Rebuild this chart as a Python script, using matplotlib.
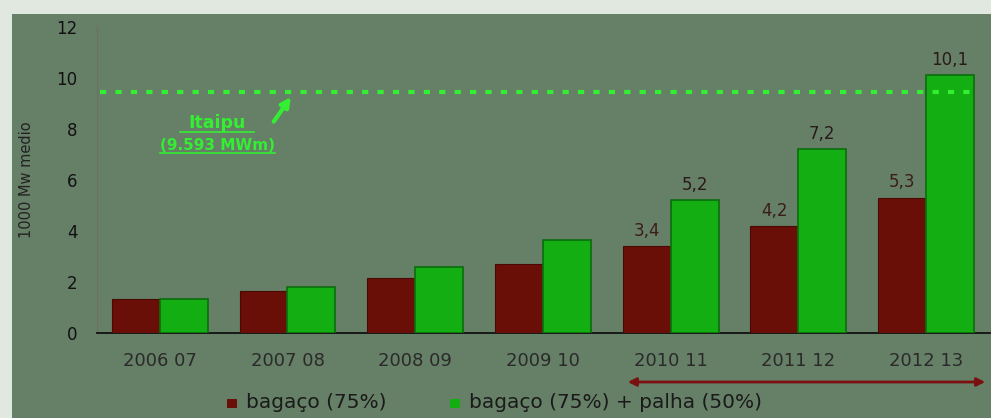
import numpy as np
from matplotlib import pyplot as plt
from matplotlib.patches import Rectangle, FancyArrowPatch

# Chart data
seasons = ['2006 07', '2007 08', '2008 09', '2009 10', '2010 11', '2011 12', '2012 13']
bagaco = [1.35, 1.65, 2.15, 2.7, 3.4, 4.2, 5.3]
bagaco_palha = [1.35, 1.8, 2.6, 3.65, 5.2, 7.2, 10.1]
labelled_from = 4          # values are printed only from 2010 11 on
itaipu_level = 9.45
itaipu_text = ['Itaipu', '(9.593 MWm)']

# Colours
outer_bg = '#e1e8df'
panel_bg = '#667f67'
red = '#6a0f07'
green = '#12ae12'
green_edge = '#0b6d0b'
line_green = '#33ee33'


def fmt(v):
    return ('%.1f' % v).replace('.', ',')


fig = plt.figure(figsize=(9.91, 4.18), dpi=100)
fig.patch.set_facecolor(outer_bg)
fig.patches.append(Rectangle((0.0121, 0), 1, 0.9665, transform=fig.transFigure,
                             facecolor=panel_bg, edgecolor='none', zorder=-5))

ax = fig.add_axes([0.098, 0.2033, 0.901, 0.7321])
ax.set_facecolor('none')

x = np.arange(len(seasons))
w = 0.375
ax.bar(x - w / 2, bagaco, w, color=red, edgecolor='#4a0a04', linewidth=0.8, zorder=3)
ax.bar(x + w / 2, bagaco_palha, w, color=green, edgecolor=green_edge, linewidth=1.2, zorder=3)

# Value labels
for i in range(labelled_from, len(seasons)):
    ax.text(x[i] - w / 2, bagaco[i] + 0.25, fmt(bagaco[i]), ha='center', va='bottom',
            fontsize=12, color='#3a1c1c', zorder=4)
    ax.text(x[i] + w / 2, bagaco_palha[i] + 0.25, fmt(bagaco_palha[i]), ha='center', va='bottom',
            fontsize=12, color='#2a1a1a', zorder=4)

# Itaipu reference line
ax.axhline(itaipu_level, xmin=0.003, xmax=0.985, color=line_green, linestyle=(0, (1.5, 2.2)),
           linewidth=3, zorder=5)
ax.text(0.45, 8.25, itaipu_text[0], ha='center', va='center', fontsize=12.5,
        color=line_green, fontweight='bold')
ax.text(0.45, 7.35, itaipu_text[1], ha='center', va='center', fontsize=11,
        color=line_green, fontweight='bold')
ax.plot([0.16, 0.74], [7.9, 7.9], color=line_green, lw=1.2)
ax.plot([0.0, 0.9], [7.05, 7.05], color=line_green, lw=1.2)
ax.annotate('', xy=(1.04, itaipu_level - 0.1), xytext=(0.88, 8.2),
            arrowprops=dict(arrowstyle='-|>', color=line_green, lw=3, mutation_scale=14))

# Axes styling
ax.set_xlim(-0.49, 6.5)
ax.set_ylim(0, 12)
ax.set_yticks(range(0, 13, 2))
ax.set_xticks(x, labels=seasons)
ax.tick_params(axis='y', length=0, labelsize=12, pad=14, labelcolor='#111111')
ax.tick_params(axis='x', length=0, labelsize=13, pad=14, labelcolor='#2a2a2a')
for s in ['top', 'right']:
    ax.spines[s].set_visible(False)
ax.spines['left'].set_color('#6e6e66')
ax.spines['bottom'].set_color('#111111')
ax.spines['bottom'].set_linewidth(1.3)
ax.set_ylabel('1000 Mw medio', fontsize=10.5, color='#222222', labelpad=16)

# Double-headed arrow under the last three seasons
fig.patches.append(FancyArrowPatch(
    (625 / 991, 1 - 382 / 418), (988 / 991, 1 - 382 / 418), transform=fig.transFigure,
    arrowstyle='<|-|>', mutation_scale=12, color='#7a1010', lw=2))

# Legend
fig.patches.append(Rectangle((227 / 991, 1 - 408 / 418), 10 / 991, 9 / 418,
                             transform=fig.transFigure, facecolor=red, edgecolor='none'))
fig.text(246 / 991, 1 - 403 / 418, 'bagaço (75%)', fontsize=14.5, color='#1a1a1a', va='center')
fig.patches.append(Rectangle((450 / 991, 1 - 408 / 418), 10 / 991, 9 / 418,
                             transform=fig.transFigure, facecolor=green, edgecolor='none'))
fig.text(469 / 991, 1 - 403 / 418, 'bagaço (75%) + palha (50%)', fontsize=14.5,
         color='#1a1a1a', va='center')

fig.savefig('out.png', dpi=100, facecolor=fig.get_facecolor())
